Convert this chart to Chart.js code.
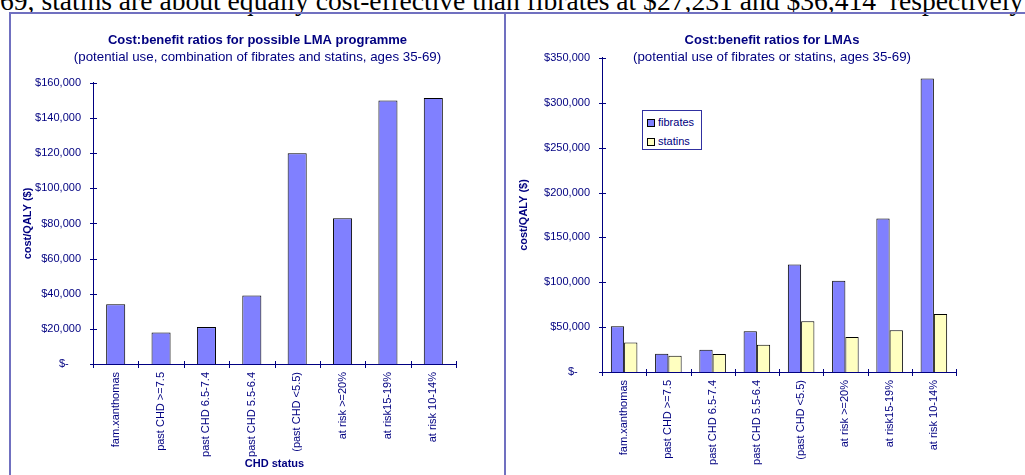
<!DOCTYPE html>
<html>
<head>
<meta charset="utf-8">
<script src="https://cdn.jsdelivr.net/npm/chart.js@4/dist/chart.umd.min.js"></script>
<style>
  body { margin: 0; width: 1025px; height: 475px; overflow: hidden; background: #fff; position: relative; }
  .line { position: absolute; left: 0; top: -13px; font: 27.6px "Liberation Serif", "Times New Roman", serif; line-height: 27.6px; white-space: nowrap; color: #000; }
  .box { position: absolute; top: 12px; height: 480px; border: 2px solid #7070c0; box-sizing: border-box; }
  canvas { position: absolute; }
  .legend { position: absolute; left: 642px; top: 110px; width: 60px; height: 40px; border: 1px solid #3030a0; box-sizing: border-box; background: #fff;
            font: 11px "Liberation Sans", Arial, sans-serif; color: #000080; }
  .legend div { position: absolute; left: 4px; height: 13px; line-height: 13px; }
  .legend span { display: inline-block; width: 6px; height: 6px; border: 1px solid #000; margin-right: 3px; vertical-align: -1px; }
</style>
</head>
<body>
<div class="line">69, statins are about equally cost-effective than fibrates at $27,231 and $36,414&nbsp; respectively</div>
<div class="box" style="left:9px; width:497px;"></div>
<div class="box" style="left:504px; width:540px;"></div>
<canvas id="left" width="493" height="461" style="left:11px; top:14px;"></canvas>
<canvas id="right" width="532" height="461" style="left:506px; top:14px;"></canvas>
<div class="legend">
  <div style="top:5px;"><span style="background:#8080ff"></span>fibrates</div>
  <div style="top:24px;"><span style="background:#ffffc0"></span>statins</div>
</div>
<script>
// categories (CHD status)
const categories = ['fam.xanthomas', 'past CHD >=7.5', 'past CHD 6.5-7.4', 'past CHD 5.5-6.4',
  '(past CHD <5.5)', 'at risk >=20%', 'at risk15-19%', 'at risk 10-14%'];

// cost/QALY, combination of fibrates and statins
const combined = [34000, 18000, 21000, 39000, 120000, 83000, 150000, 151500];

// cost/QALY per drug
const fibrates = [51000, 20400, 24900, 45300, 119800, 101600, 171100, 327000];
const statins = [33000, 18200, 20100, 30500, 56500, 39000, 46400, 64700];

const navy = '#000080';
Chart.defaults.font.family = 'Arial, "Liberation Sans", sans-serif';
Chart.defaults.color = navy;

function money(v) {
  return v === 0 ? '$-    ' : '$' + v.toLocaleString('en-US');
}

// tick marks crossing the axes
const crossTicks = {
  id: 'crossTicks',
  afterDraw(chart) {
    const { ctx, chartArea } = chart;
    const x = chart.scales.x, y = chart.scales.y;
    ctx.save();
    ctx.strokeStyle = navy;
    ctx.lineWidth = 1;
    ctx.beginPath();
    y.ticks.forEach((t, i) => {
      const py = Math.round(y.getPixelForTick(i)) + 0.5;
      ctx.moveTo(chartArea.left - 3, py);
      ctx.lineTo(chartArea.left + 4, py);
    });
    const n = categories.length;
    for (let i = 0; i <= n; i++) {
      const px = Math.round(x.left + i * (x.right - x.left) / n) + 0.5;
      ctx.moveTo(px, chartArea.bottom - 3);
      ctx.lineTo(px, chartArea.bottom + 4);
    }
    ctx.stroke();
    ctx.restore();
  }
};

function makeOptions(cfg) {
  return {
    responsive: false,
    animation: false,
    devicePixelRatio: 1,
    plugins: {
      legend: { display: false },
      tooltip: { enabled: false },
      title: {
        display: true, text: cfg.title, color: navy,
        font: { size: 13, weight: 'bold' }, padding: { top: 18.2, bottom: 0 }
      },
      subtitle: {
        display: true, text: cfg.subtitle, color: navy,
        font: { size: 13.3 }, padding: { top: 1.2, bottom: cfg.subBottom }
      }
    },
    scales: {
      x: {
        grid: { display: false, drawTicks: false },
        border: { color: navy, width: 1 },
        ticks: { autoSkip: false, maxRotation: 90, minRotation: 90, padding: 8, font: { size: 11 }, color: navy },
        title: { display: !!cfg.xTitle, text: cfg.xTitle, color: navy, font: { size: 11, weight: 'bold' }, padding: { top: 4, bottom: 4 } },
        afterFit(s) { s.height = cfg.xHeight; }
      },
      y: {
        min: 0, max: cfg.max,
        grid: { display: false, drawTicks: false },
        border: { color: navy, width: 1 },
        ticks: { stepSize: cfg.step, padding: 12, font: { size: 11 }, color: navy, callback: money },
        title: { display: true, text: 'cost/QALY ($)', color: navy, font: { size: 11, weight: 'bold' }, padding: { top: cfg.yTitlePad, bottom: 0 } },
        afterFit(s) { s.width = cfg.yWidth; }
      },
      // empty spacer on the right so the titles stay centred on the whole frame
      spacer: {
        position: 'right',
        grid: { display: false, drawTicks: false },
        border: { display: false },
        ticks: { display: false },
        afterFit(s) { s.width = cfg.padRight; }
      }
    }
  };
}

new Chart(document.getElementById('left'), {
  type: 'bar',
  data: {
    labels: categories,
    datasets: [{
      data: combined, backgroundColor: '#8080ff', borderColor: '#000', borderWidth: 1,
      categoryPercentage: 0.42, barPercentage: 1
    }]
  },
  options: makeOptions({
    title: 'Cost:benefit ratios for possible LMA programme',
    subtitle: '(potential use, combination of fibrates and statins, ages 35-69)',
    subBottom: 18, padRight: 48, xHeight: 111, yWidth: 82, yTitlePad: 10.4,
    max: 160000, step: 20000, xTitle: 'CHD status'
  }),
  plugins: [crossTicks]
});

new Chart(document.getElementById('right'), {
  type: 'bar',
  data: {
    labels: categories,
    datasets: [
      { label: 'fibrates', data: fibrates, backgroundColor: '#8080ff', borderColor: '#000', borderWidth: 1,
        categoryPercentage: 0.6, barPercentage: 1 },
      { label: 'statins', data: statins, backgroundColor: '#ffffc0', borderColor: '#000', borderWidth: 1,
        categoryPercentage: 0.6, barPercentage: 1 }
    ]
  },
  options: makeOptions({
    title: 'Cost:benefit ratios for LMAs',
    subtitle: '(potential use of fibrates or statins, ages 35-69)',
    subBottom: -7, padRight: 82, xHeight: 103, yWidth: 96, yTitlePad: 11.4,
    max: 350000, step: 50000, xTitle: ''
  }),
  plugins: [crossTicks]
});
</script>
</body>
</html>
